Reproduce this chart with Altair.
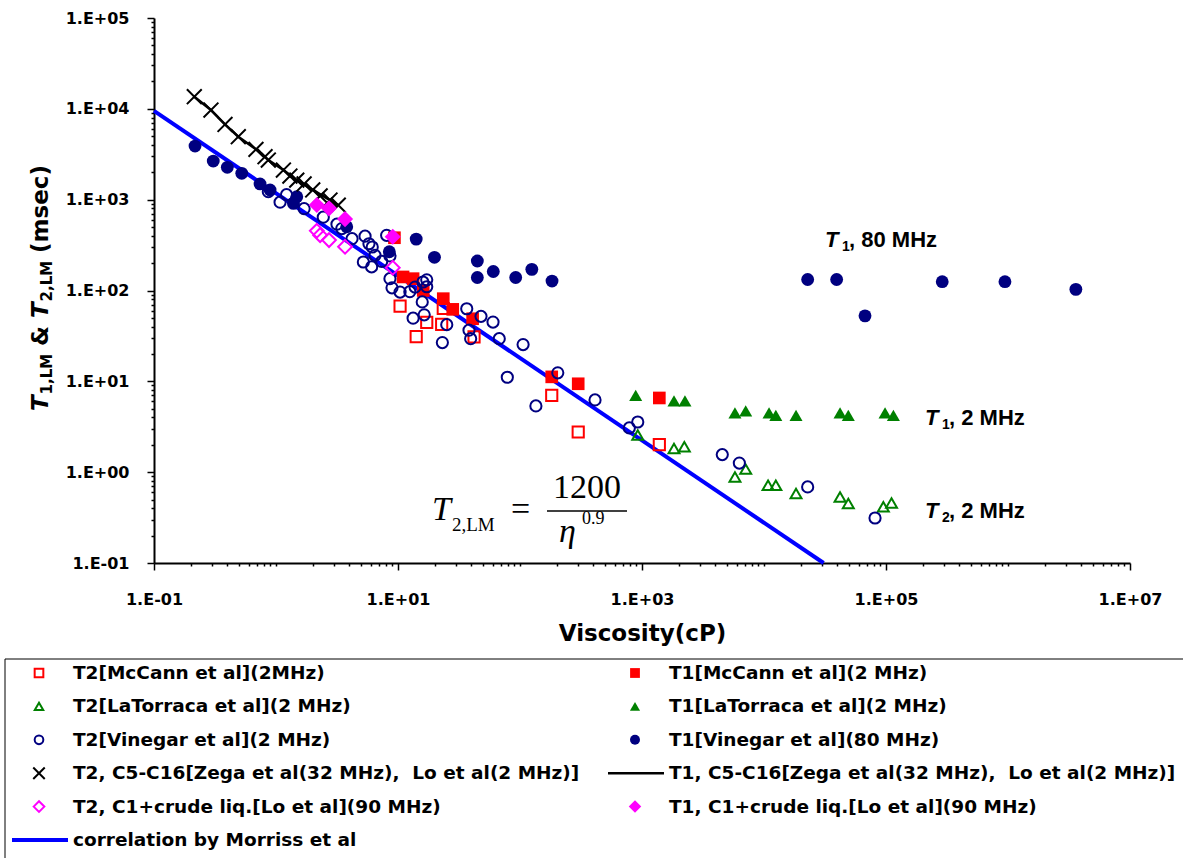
import altair as alt
import pandas as pd

# ---------------- data ----------------
mccann_t2_visc = [10.4, 14.1, 17.2, 22.8, 23.5, 42.0, 182, 300, 1387]
mccann_t2_t = [67.3, 31.1, 44.5, 42.3, 63.4, 30.8, 7.0, 2.77, 2.01]

mccann_t1_visc = [9.35, 11.0, 13.3, 16.1, 23.5, 28.1, 40.9, 182, 300, 1387]
mccann_t1_t = [381, 141, 135, 100, 81.3, 62, 48.9, 11.2, 9.4, 6.56]

latorraca_t2_visc = [923, 1829, 2223, 5780, 7080, 10800, 12500, 18300, 42000, 49100, 95100, 111000]
latorraca_t2_t = [2.56, 1.82, 1.90, 0.887, 1.08, 0.719, 0.719, 0.582, 0.534, 0.452, 0.415, 0.459]

latorraca_t1_visc = [888, 1829, 2250, 5780, 7080, 11000, 12500, 18300, 42000, 49100, 98200, 115000]
latorraca_t1_t = [7.0, 6.09, 6.09, 4.49, 4.72, 4.49, 4.23, 4.23, 4.49, 4.23, 4.49, 4.23]

vinegar_t2_visc = [0.865, 1.08, 1.22, 1.70, 2.44, 3.16, 3.46, 4.20, 5.37, 5.78, 6.15, 6.48,
                   5.20, 6.08, 7.35, 8.07, 8.59, 8.59, 8.93, 10.4, 12.5, 13.8, 16.0, 17.2,
                   17.2, 15.8, 16.4, 13.3, 25.1, 23.1, 36.6, 47.9, 38.2, 39.4, 60.1, 67.6,
                   106, 78.7, 135, 204, 412, 787, 923, 4550, 6280, 22800, 81300]
vinegar_t2_t = [1225, 938, 1135, 796, 641, 537, 480, 372, 396, 327, 301, 244,
                206, 182, 209, 405, 240, 135, 107, 96, 97, 109, 124, 110,
                131, 74.8, 54, 49.6, 42.1, 26.7, 63, 51.9, 36.6, 29.5, 44.9, 29.5,
                25.4, 11.1, 5.36, 12.4, 6.24, 3.07, 3.57, 1.56, 1.26, 0.688, 0.313]

vinegar_t1_visc = [0.217, 0.306, 0.399, 0.524, 0.740, 0.894, 1.48, 1.39, 3.80, 8.49, 14.1, 19.9,
                   44.7, 44.7, 60.4, 92.2, 125, 183, 22800, 39400, 67300, 289000, 944000, 3600000]
vinegar_t1_t = [3890, 2660, 2270, 1950, 1490, 1280, 1077, 910, 503, 267, 368, 232,
                211, 139, 162, 139, 171, 127, 132, 132, 52.6, 125, 125, 103]

alkane_t2_visc = [0.214, 0.293, 0.382, 0.491, 0.685, 0.813, 0.865, 1.15, 1.30, 1.48, 1.70, 2.00, 2.30, 2.77, 3.24]
alkane_t2_t = [13600, 9700, 6730, 4930, 3580, 2970, 2730, 2120, 1820, 1640, 1490, 1280, 1100, 990, 870]

alkane_t1_visc = [0.214, 0.293, 0.382, 0.491, 0.685, 0.865, 1.15, 1.48, 2.00, 2.77, 3.24]
alkane_t1_t = [13600, 9700, 6730, 4930, 3580, 2730, 2120, 1640, 1280, 990, 870]

crude_t2_visc = [2.16, 2.30, 2.72, 3.68, 9.06]
crude_t2_t = [454, 407, 359, 303, 178]

crude_t1_visc = [2.16, 2.72, 3.68, 9.06]
crude_t1_t = [873, 802, 611, 390]

corr_visc = [0.1, 30800]
corr_t = [9500, 0.1]

legend_labels = [
    "T2[McCann et al](2MHz)", "T1[McCann et al](2 MHz)",
    "T2[LaTorraca et al](2 MHz)", "T1[LaTorraca et al](2 MHz)",
    "T2[Vinegar et al](2 MHz)", "T1[Vinegar et al](80 MHz)",
    "T2, C5-C16[Zega et al(32 MHz),\u00a0 Lo et al(2 MHz)]",
    "T1, C5-C16[Zega et al(32 MHz),\u00a0 Lo et al(2 MHz)]",
    "T2, C1+crude liq.[Lo et al](90 MHz)", "T1, C1+crude liq.[Lo et al](90 MHz)",
    "correlation by Morriss et al",
]
legend_cols = [0, 1, 0, 1, 0, 1, 0, 1, 0, 1, 0]
legend_rows = [0, 0, 1, 1, 2, 2, 3, 3, 4, 4, 5]

# ---------------- styles ----------------
RED, GREEN, NAVY, MAG, BLUE = "#FF0000", "#008000", "#000080", "#FF00FF", "#0000FF"
XPATH = "M-1,-1L1,1M-1,1L1,-1"
styles = [
    dict(kind="point", shape="square", filled=False, color=RED, size=125, strokeWidth=2),
    dict(kind="point", shape="square", filled=True, color=RED, size=160),
    dict(kind="point", shape="triangle-up", filled=False, color=GREEN, size=120, strokeWidth=2),
    dict(kind="point", shape="triangle-up", filled=True, color=GREEN, size=170),
    dict(kind="point", shape="circle", filled=False, color=NAVY, size=125, strokeWidth=2),
    dict(kind="point", shape="circle", filled=True, color=NAVY, size=165),
    dict(kind="point", shape=XPATH, filled=False, color="black", size=220, strokeWidth=2),
    dict(kind="line", color="black", strokeWidth=2.5),
    dict(kind="point", shape="diamond", filled=False, color=MAG, size=190, strokeWidth=2),
    dict(kind="point", shape="diamond", filled=True, color=MAG, size=260),
    dict(kind="line", color=BLUE, strokeWidth=4),
]
series_data = [
    (mccann_t2_visc, mccann_t2_t), (mccann_t1_visc, mccann_t1_t),
    (latorraca_t2_visc, latorraca_t2_t), (latorraca_t1_visc, latorraca_t1_t),
    (vinegar_t2_visc, vinegar_t2_t), (vinegar_t1_visc, vinegar_t1_t),
    (alkane_t2_visc, alkane_t2_t), (alkane_t1_visc, alkane_t1_t),
    (crude_t2_visc, crude_t2_t), (crude_t1_visc, crude_t1_t),
    (corr_visc, corr_t),
]
draw_order = [10, 0, 1, 2, 3, 4, 5, 6, 7, 8, 9]

W, H = 976, 545
AX = "DejaVu Sans"
ANN = "Liberation Sans"
SERIF = "Liberation Serif"

xticks = [m * 10.0 ** e for e in range(-1, 7) for m in range(1, 10)] + [1e7]
yticks = [m * 10.0 ** e for e in range(-1, 5) for m in range(1, 10)] + [1e5]
E = "log(datum.value)/LN10"
isdec = f"abs({E} - round({E})) < 0.001"
lab = f"'1.E' + (datum.value < 1 ? '-' : '+') + '0' + abs(round({E}))"
x_major = f"{isdec} && abs(round({E})) % 2 == 1"

xaxis = alt.Axis(
    values=xticks, labelExpr=f"{x_major} ? {lab} : ''",
    tickSize={"condition": {"test": x_major, "value": 7}, "value": 3},
    labelFont=AX, labelFontWeight="bold", labelFontSize=16, labelColor="black",
    labelPadding=21, labelOverlap=False, labelFlush=False,
    title="Viscosity(cP)", titleFont=AX, titleFontSize=23, titleFontWeight="bold",
    titleColor="black", titlePadding=15,
    grid=False, domainColor="black", domainWidth=2, tickColor="black", tickWidth=1.5,
)
yaxis = alt.Axis(
    values=yticks, labelExpr=f"{isdec} ? {lab} : ''",
    tickSize={"condition": {"test": isdec, "value": 7}, "value": 3},
    labelFont=AX, labelFontWeight="bold", labelFontSize=16, labelColor="black",
    labelPadding=18, labelOverlap=False, labelFlush=False,
    title=None, grid=False, domainColor="black", domainWidth=2,
    tickColor="black", tickWidth=1.5,
)
xs = alt.Scale(type="log", domain=[0.1, 1e7], nice=False)
ys = alt.Scale(type="log", domain=[0.1, 1e5], nice=False)

plot_layers = []
for i in draw_order:
    st = dict(styles[i])
    kind = st.pop("kind")
    vx, vy = series_data[i]
    df = pd.DataFrame({"visc": vx, "t": vy})
    base = alt.Chart(df)
    if kind == "point":
        m = base.mark_point(opacity=1, **st)
    else:
        m = base.mark_line(**st)
    plot_layers.append(m.encode(
        x=alt.X("visc:Q", scale=xs, axis=xaxis),
        y=alt.Y("t:Q", scale=ys, axis=yaxis),
    ))

one = pd.DataFrame({"a": [0]})


def txt(text, x, y, size, font=ANN, weight="bold", style="normal", angle=0, align="left"):
    props = dict(text=text, font=font, fontSize=size, fontWeight=weight, fontStyle=style,
                 color="black", align=align, baseline="alphabetic")
    if angle:
        props["angle"] = angle
    return alt.Chart(one).mark_text(**props).encode(x=alt.value(x), y=alt.value(y))


# y axis title (rotated, with italic T and subscripts)
yt = [
    ("T", 0, 23, "italic", 0), ("1,LM", 16.5, 15, "normal", 4),
    ("&", 65, 23, "normal", 0), ("T", 93, 23, "italic", 0),
    ("2,LM", 109.5, 15, "normal", 4), ("(msec)", 158, 23, "normal", 0),
]
ybase = 393
for s, off, size, sty, shift in yt:
    plot_layers.append(txt(s, -106 + shift, ybase - off, size, font=AX, style=sty, angle=270))

# in-plot annotations
for lbl, bx, by in [("1", 671, 229), ("1", 771, 407), ("2", 771, 500)]:
    plot_layers.append(txt("T", bx, by, 22, style="italic"))
    plot_layers.append(txt(lbl, bx + 17, by + 4, 14))
for s, bx, by in [(", 80 MHz", 695, 229), (", 2 MHz", 795, 407), (", 2 MHz", 795, 500)]:
    plot_layers.append(txt(s, bx, by, 22))

# formula
plot_layers.append(txt("T", 278, 502, 34, font=SERIF, weight="normal", style="italic"))
plot_layers.append(txt("2,LM", 298, 513, 19, font=SERIF, weight="normal"))
plot_layers.append(txt("=", 357, 502, 34, font=SERIF, weight="normal"))
plot_layers.append(txt("1200", 433, 480, 34, font=SERIF, weight="normal", align="center"))
plot_layers.append(alt.Chart(one).mark_rule(color="black", strokeWidth=1.5).encode(
    x=alt.value(393), x2=alt.value(473), y=alt.value(493)))
plot_layers.append(txt("\u03b7", 405, 524, 34, font=SERIF, weight="normal", style="italic"))
plot_layers.append(txt("0.9", 428, 506, 18, font=SERIF, weight="normal"))

plot = alt.layer(*plot_layers)

# ---------------- legend ----------------
leg_df = pd.DataFrame({"label": legend_labels, "col": legend_cols, "row": legend_rows})
lx = alt.X("col:Q", scale=alt.Scale(domain=[0, 1], range=[-81, 515]), axis=None)
ly = alt.Y("row:Q", scale=alt.Scale(domain=[0, 5], range=[655, 822]), axis=None)

leg_layers = [
    alt.Chart(one).mark_rule(color="black", strokeWidth=1).encode(
        x=alt.value(-149), x2=alt.value(1040), y=alt.value(641)),
    alt.Chart(one).mark_rule(color="black", strokeWidth=1).encode(
        x=alt.value(-149), y=alt.value(641), y2=alt.value(860)),
]
for i, st in enumerate(styles):
    st = dict(st)
    kind = st.pop("kind")
    d = leg_df.iloc[[i]]
    if kind == "point":
        st["size"] = st["size"] * 0.6
        leg_layers.append(alt.Chart(d).mark_point(opacity=1, xOffset=-34, **st).encode(x=lx, y=ly))
    else:
        leg_layers.append(alt.Chart(d).mark_rule(xOffset=-61, x2Offset=-5, **st).encode(
            x=lx, x2=alt.X2("col"), y=ly))
leg_layers.append(alt.Chart(leg_df).mark_text(
    align="left", baseline="middle", font=AX, fontWeight="bold", fontSize=18.5, color="black"
).encode(x=lx, y=ly, text="label:N"))
legend = alt.layer(*leg_layers)

chart = alt.layer(plot, legend).resolve_scale(x="independent", y="independent").properties(
    width=W, height=H,
    autosize=alt.AutoSizeParams(type="none"),
    padding={"left": 154, "top": 18, "right": 53, "bottom": 295},
).configure_view(stroke=None)

chart.save("out.html", embed_options={"renderer": "svg", "actions": False})
